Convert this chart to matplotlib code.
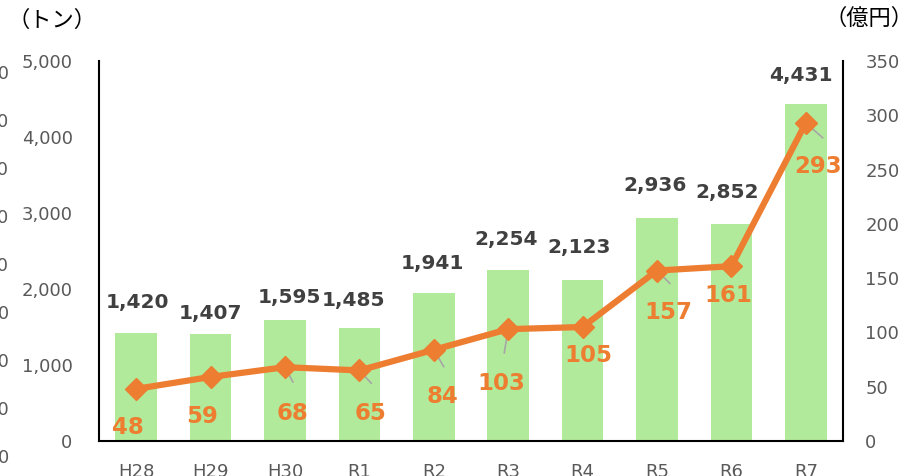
import matplotlib
matplotlib.use("Agg")
import matplotlib.pyplot as plt
import numpy as np

# data
years = ['H28', 'H29', 'H30', 'R1', 'R2', 'R3', 'R4', 'R5', 'R6', 'R7']
tons = [1420, 1407, 1595, 1485, 1941, 2254, 2123, 2936, 2852, 4431]
oku_yen = [48, 59, 68, 65, 84, 103, 105, 157, 161, 293]
left_ticks = [0, 1000, 2000, 3000, 4000, 5000]
right_ticks = [0, 50, 100, 150, 200, 250, 300, 350]
# labels of a neighbouring axis that is mostly cut off at the left edge
hidden_ticks = [0, 50, 100, 150, 200, 250, 300, 350, 400]

# manual label placement (pixels, up = positive)
bar_lbl_off = [(1, 31), (0, 21), (4, 22), (-6, 28), (-1, 30), (-2, 30), (-3, 32), (-2, 32), (-4, 32), (-5, 29)]
line_lbl_off = [(-8, -39), (-8, -40), (7, -46), (11, -43), (9, -47), (-7, -54), (6, -28), (11, -42), (-3, -29), (12, -44)]
leader_off = [None, None, (8, -15), (12, -13), (10, -17), (-4, -24), None, (13, -13), None, (17, -15)]

GREEN = '#B2EA9B'
ORANGE = '#ED7D31'
DARK = '#404040'
GREY = '#595959'

fig = plt.figure(figsize=(9.05, 4.76), dpi=100)
ax = fig.add_axes([99/905, 35/476, 744/905, 380/476])
ax2 = ax.twinx()

x = np.arange(len(years))
ax.bar(x, tons, width=0.56, color=GREEN, zorder=2)
ax.set_xlim(-0.5, len(years) - 0.5)
ax.set_ylim(0, 5000)
ax.set_yticks(left_ticks)
ax.set_yticklabels([f'{v:,}' for v in left_ticks])
ax.set_xticks(x)
ax.set_xticklabels(years)
ax.tick_params(axis='y', length=0, pad=19, labelsize=13, labelcolor=GREY)
ax.tick_params(axis='x', length=0, pad=16, labelsize=13, labelcolor=GREY)

for i, v in enumerate(tons):
    dx, dy = bar_lbl_off[i]
    ax.annotate(f'{v:,}', (i, v), xytext=(dx, dy), textcoords='offset pixels',
                ha='center', va='center', fontsize=14.5, fontweight='bold', color=DARK)

ax2.plot(x, oku_yen, color=ORANGE, lw=4.5, marker='D', markersize=11, zorder=3)
ax2.set_ylim(0, 350)
ax2.set_yticks(right_ticks)
ax2.tick_params(axis='y', length=0, pad=16, labelsize=13, labelcolor=GREY)

for i, v in enumerate(oku_yen):
    if leader_off[i] is not None:
        lx, ly = leader_off[i]
        ax2.annotate('', (i, v), xytext=(lx, ly), textcoords='offset pixels',
                     arrowprops=dict(arrowstyle='-', color='#A6A6A6', lw=1.2,
                                     shrinkA=0, shrinkB=0), zorder=2)
    dx, dy = line_lbl_off[i]
    ax2.annotate(str(v), (i, v), xytext=(dx, dy), textcoords='offset pixels',
                 ha='center', va='center', fontsize=16.5, fontweight='bold', color=ORANGE)

for a in (ax, ax2):
    a.spines['top'].set_visible(False)
ax.spines['right'].set_visible(False)
ax2.spines['left'].set_visible(False)
ax2.spines['bottom'].set_visible(False)
ax.spines['left'].set_linewidth(1.5)
ax.spines['bottom'].set_linewidth(1.5)
ax2.spines['right'].set_linewidth(1.5)

jp = ['Noto Sans CJK JP', 'DejaVu Sans']
fig.text(52/905, 1 - 20/476, '（トン）', family=jp, fontsize=16, ha='center', va='center')
fig.text(869/905, 1 - 18/476, '（億円）', family=jp, fontsize=16, ha='center', va='center')

for k, v in enumerate(hidden_ticks):
    fig.text(9/905, (476 - 458 + 48*k)/476, str(v), fontsize=13, color=GREY,
             ha='right', va='center')

fig.savefig('out.png', dpi=100)
